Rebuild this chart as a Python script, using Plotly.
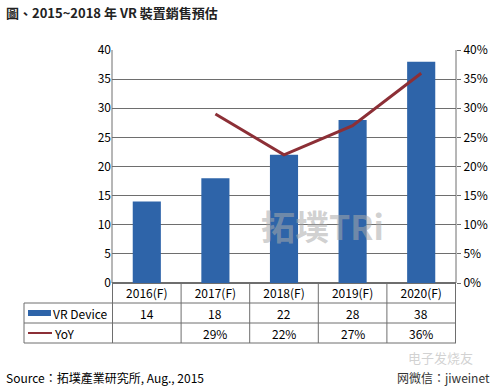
import plotly.graph_objects as go

categories = ["2016(F)", "2017(F)", "2018(F)", "2019(F)", "2020(F)"]
vr_device = [14, 18, 22, 28, 38]
yoy = [None, 0.29, 0.22, 0.27, 0.36]
yoy_labels = ["", "29%", "22%", "27%", "36%"]

BAR = "#2E64A9"
LINE = "#8C2F36"
GRID = "#6E6E6E"
FONT = "Noto Sans CJK TC, Noto Sans, sans-serif"

W, H = 499, 389
L, R, T, B = 112, 456, 50, 283
pw, ph = R - L, B - T

def py(p):  # pixel y -> paper y
    return (B - p) / ph

def px(p):  # pixel x -> paper x
    return (p - L) / pw

fig = go.Figure()
fig.add_trace(go.Bar(x=categories, y=vr_device, name="VR Device",
                     marker=dict(color=BAR, line=dict(width=0)), width=0.41))
fig.add_trace(go.Scatter(x=categories, y=yoy, name="YoY", yaxis="y2",
                         mode="lines", line=dict(color=LINE, width=3)))

shapes = []
shapes.append(dict(type="line", xref="paper", yref="paper", x0=0, x1=0, y0=0, y1=1, line=dict(color=GRID, width=1)))
shapes.append(dict(type="line", xref="paper", yref="paper", x0=1, x1=1, y0=0, y1=1, line=dict(color=GRID, width=1)))
for p in [303, 323, 343]:
    shapes.append(dict(type="line", xref="paper", yref="paper", x0=px(24), x1=1, y0=py(p), y1=py(p), line=dict(color=GRID, width=1)))
shapes.append(dict(type="line", xref="paper", yref="paper", x0=px(24), x1=px(24), y0=py(303), y1=py(343), line=dict(color=GRID, width=1)))
for i in range(len(categories) + 1):
    shapes.append(dict(type="line", xref="x", yref="paper", x0=i - 0.5, x1=i - 0.5, y0=0, y1=py(343), line=dict(color=GRID, width=1)))
shapes.append(dict(type="rect", xref="paper", yref="paper", x0=px(28), x1=px(51), y0=py(316), y1=py(310), fillcolor=BAR, line=dict(width=0)))
shapes.append(dict(type="line", xref="paper", yref="paper", x0=px(28), x1=px(52), y0=py(333), y1=py(333), line=dict(color=LINE, width=2)))

ann = []
ann.append(dict(text="VR Device", xref="paper", yref="paper", x=px(51), y=py(313), xanchor="left", yanchor="middle", showarrow=False, font=dict(size=12, color="#000")))
ann.append(dict(text="YoY", xref="paper", yref="paper", x=px(52), y=py(333), xanchor="left", yanchor="middle", showarrow=False, font=dict(size=12, color="#000")))
for c, v in zip(categories, vr_device):
    ann.append(dict(text=str(v), xref="x", yref="paper", x=c, y=py(313), xanchor="center", yanchor="middle", showarrow=False, font=dict(size=12, color="#000")))
for c, t in zip(categories, yoy_labels):
    if t:
        ann.append(dict(text=t, xref="x", yref="paper", x=c, y=py(333), xanchor="center", yanchor="middle", showarrow=False, font=dict(size=12, color="#000")))
ann.append(dict(text="<b>圖、2015~2018 年 VR 裝置銷售預估</b>", xref="paper", yref="paper", x=px(4), y=py(12), xanchor="left", yanchor="middle", showarrow=False, font=dict(size=13, color="#222")))
ann.append(dict(text="Source：拓墣產業研究所, Aug., 2015", xref="paper", yref="paper", x=px(4), y=py(377), xanchor="left", yanchor="middle", showarrow=False, font=dict(size=12, color="#000")))
ann.append(dict(text="<b>拓墣TRi</b>", xref="paper", yref="paper", x=px(322), y=py(225), xanchor="center", yanchor="middle", showarrow=False, font=dict(size=34, color="rgba(170,170,170,0.55)")))
ann.append(dict(text="电子发烧友", xref="paper", yref="paper", x=px(440), y=py(357), xanchor="center", yanchor="middle", showarrow=False, font=dict(size=13, color="rgba(180,180,180,0.6)")))
ann.append(dict(text="网微信：jiweinet", xref="paper", yref="paper", x=px(492), y=py(377), xanchor="right", yanchor="middle", showarrow=False, font=dict(size=12, color="#333")))

fig.update_layout(
    width=W, height=H,
    margin=dict(l=L, r=W - R, t=T, b=H - B),
    paper_bgcolor="white", plot_bgcolor="white",
    showlegend=False,
    font=dict(family=FONT, size=12, color="#000"),
    bargap=0.59,
    xaxis=dict(type="category", showgrid=False, showline=False, ticks="",
               tickfont=dict(size=12, color="#000"), ticklabelstandoff=2),
    yaxis=dict(range=[0, 40], dtick=5, showgrid=True, gridcolor=GRID, gridwidth=1,
               zeroline=True, zerolinecolor=GRID, showline=False, ticks="",
               tickfont=dict(size=12, color="#000")),
    yaxis2=dict(range=[0, 0.4], dtick=0.05, tickformat=".0%", overlaying="y", side="right",
                showgrid=False, zeroline=False, showline=False, ticks="outside", ticklen=4,
                tickcolor=GRID, tickfont=dict(size=12, color="#000")),
    shapes=shapes, annotations=ann,
)
fig.write_html("out.html", config={"displayModeBar": False},
               post_script="document.body.style.margin='0';document.body.style.overflow='hidden';")
